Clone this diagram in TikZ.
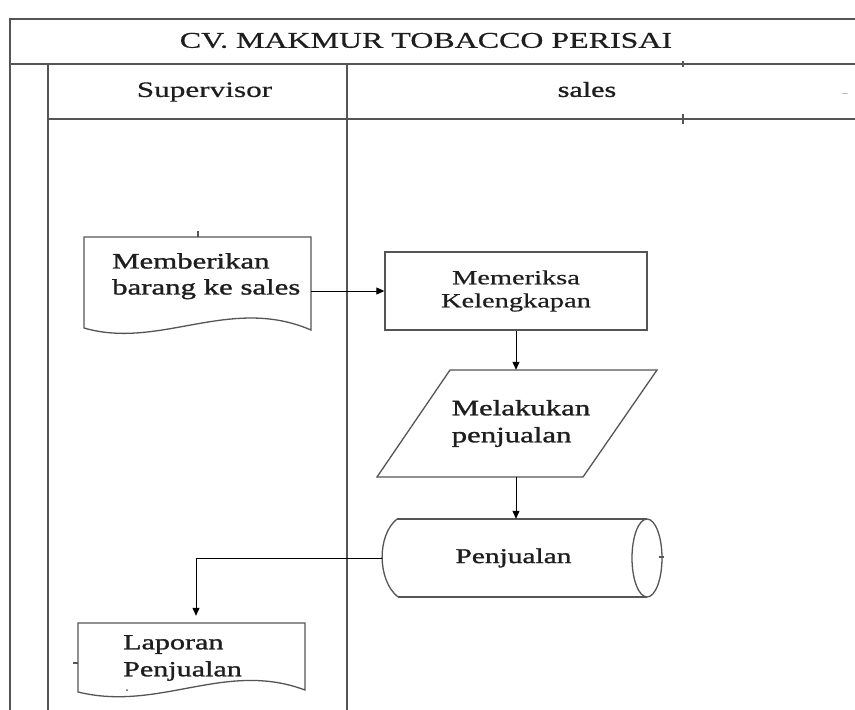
\documentclass[tikz,border=0pt]{standalone}
\usepackage{fontspec}
\setmainfont{Liberation Serif}[FakeStretch=1.42, FakeBold=0.5]
\newfontfamily\heavy{Liberation Serif}[FakeStretch=1.4, FakeBold=1.3]
\usetikzlibrary{arrows.meta}
\newcommand\fsz[2]{\fontsize{#1}{#2}\selectfont}
\definecolor{ink}{HTML}{1E1E1E}
\definecolor{edge}{HTML}{555555}
\tikzset{
  frame/.style={draw=edge, line width=1.6pt},
  shp/.style={draw=edge, line width=1.3pt},
  lbl/.style={inner sep=0pt, text=ink, align=left},
  holder/.style={draw=none, inner sep=0pt},
  arr/.style={draw=black, line width=1pt, -{Triangle[length=8pt,width=7pt]}},
  conn/.style={draw=black, line width=1pt},
  tick/.style={draw=edge, line width=1.4pt}
}
\begin{document}
\begin{tikzpicture}[x=1pt,y=-1pt]
\useasboundingbox (0,0) rectangle (855,710);
\fill[white] (0,0) rectangle (855,710);
% swimlane frame
\draw[frame] (855,19) -- (10,19) -- (10,710);
\draw[frame] (10,64) -- (855,64);
\draw[frame] (48,64) -- (48,710);
\draw[frame] (347,64) -- (347,710);
\draw[frame] (48,119) -- (855,119);
\draw[tick] (683,61) -- (683,67);
\draw[tick] (683,114) -- (683,124);
\draw[draw=black!25, line width=0.8pt] (842,93) -- (848,93);
% headers
\node[lbl, font=\fsz{22.5}{27}] (title) at (426,40.5) {CV. MAKMUR TOBACCO PERISAI};
\node[lbl, font=\fsz{22}{26}] (sup) at (204.5,92) {Supervisor};
\node[lbl, font=\heavy\fsz{21.5}{26}] (sal) at (587,89.5) {sales};
% document 1
\draw[shp] (84,237) -- (311,237) -- (311,330) .. controls (230,295) and (160,350) .. (84,328) -- cycle;
\draw[tick] (198,231) -- (198,237);
\node[holder, minimum width=227pt, minimum height=93pt] (d1) at (197.5,283.5) {};
\node[lbl, font=\heavy\fsz{22}{26}, anchor=north west] (d1t) at (112,253) {Memberikan\\barang ke sales};
% process rectangle
\node[shp, fill=white, minimum width=262pt, minimum height=78pt, inner sep=0pt, text=ink, align=center, font=\fsz{20}{23}] (r1) at (516,291) {Memeriksa\\Kelengkapan};
% parallelogram
\draw[shp] (450,370) -- (657,370) -- (583,477) -- (377,477) -- cycle;
\node[lbl, font=\heavy\fsz{22}{27}, minimum height=107pt] (p1) at (521,423.5) {Melakukan\\penjualan};
% stored data (cylinder)
\draw[shp] (397,519) -- (647,519);
\draw[shp] (398,597) -- (647,597);
\draw[shp] (397,519) .. controls (377,535) and (377,580) .. (398,597);
\draw[shp] (647,558) ellipse [x radius=15pt, y radius=39pt];
\draw[tick] (659,557) -- (664,557);
\node[lbl, font=\heavy\fsz{21}{25}, minimum width=263pt, minimum height=78pt, align=center] (c1) at (513.5,558) {Penjualan};
% document 2
\draw[shp] (78,623) -- (305,623) -- (305,690) .. controls (225,660) and (160,712) .. (78,692) -- cycle;
\draw[tick] (73,663) -- (78,663);
\fill[edge] (127,690) circle (1pt);
\node[holder, minimum width=227pt, minimum height=67pt] (d2) at (191.5,656.5) {};
\node[lbl, font=\heavy\fsz{21.5}{27}, anchor=north west] (d2t) at (123,635) {Laporan\\Penjualan};
% connectors
\draw[arr] (d1.east |- r1.west) -- (r1.west);
\draw[arr] (r1.south) -- (r1.south |- p1.north);
\draw[arr] (r1.south |- p1.south) -- (r1.south |- c1.north);
\draw[arr, shorten >=7pt] (c1.west) -| ([xshift=4.5pt]d2.north);
\end{tikzpicture}
\end{document}
